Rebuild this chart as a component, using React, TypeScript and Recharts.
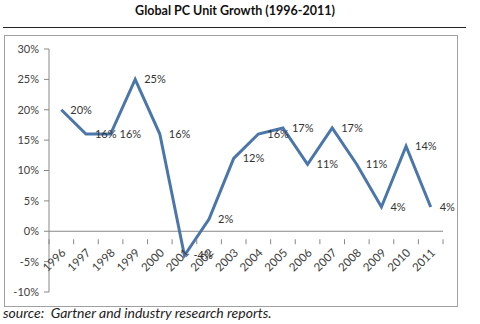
import { LineChart, Line, XAxis, YAxis, LabelList, ReferenceLine } from "recharts";

const years = ["1996", "1997", "1998", "1999", "2000", "2001", "2002", "2003", "2004", "2005", "2006", "2007", "2008", "2009", "2010", "2011"];
const growth = [20, 16, 16, 25, 16, -4, 2, 12, 16, 17, 11, 17, 11, 4, 14, 4];
const yTicks = [-10, -5, 0, 5, 10, 15, 20, 25, 30];

const data = years.map((year, i) => ({ year, growth: growth[i] }));

const W = 480;
const H = 324;
const margin = { top: 49, right: 37, bottom: 31, left: 9 };
const yAxisW = 40;
const yMin = -10;
const yMax = 30;
const plotW = W - margin.left - margin.right - yAxisW;
const plotH = H - margin.top - margin.bottom - 1;
const band = plotW / years.length;
// distance from the bottom of the plot up to the 0% line
const zeroLift = (plotH * (0 - yMin)) / (yMax - yMin);

const font = "Lato, 'Open Sans', sans-serif";

function YearTick(props: any) {
  const { x, y, payload, index } = props;
  const y0 = y - zeroLift;
  return (
    <g>
      <line x1={x - band / 2} x2={x - band / 2} y1={y0} y2={y0 + 5} stroke="#888" />
      {index === years.length - 1 && (
        <line x1={x + band / 2} x2={x + band / 2} y1={y0} y2={y0 + 5} stroke="#888" />
      )}
      <text
        transform={`translate(${x + 2},${y0 + 11}) rotate(-45)`}
        textAnchor="end"
        dominantBaseline="central"
        fontSize={11.5}
        fill="#404040"
        fontFamily={font}
      >
        {payload.value}
      </text>
    </g>
  );
}

export default function App() {
  return (
    <div style={{ position: "absolute", left: 0, top: 0, width: W, height: H, background: "#fff", fontFamily: font }}>
      <div style={{ position: "absolute", left: 0, top: 3, width: 470, textAlign: "center", fontSize: 12.5, fontWeight: 700, color: "#111" }}>
        Global PC Unit Growth (1996-2011)
      </div>
      <div style={{ position: "absolute", left: 3, top: 27, width: 463, height: 1, background: "#222" }} />
      <div style={{ position: "absolute", left: 4, top: 35, width: 452, height: 270, border: "1px solid #a0a0a0" }} />
      <div style={{ position: "absolute", left: 3, top: 304, fontSize: 14, lineHeight: "17px", fontStyle: "italic", color: "#222", whiteSpace: "pre" }}>
        {"source:  Gartner and industry research reports."}
      </div>
      <div style={{ position: "absolute", left: 0, top: 0 }}>
        <LineChart width={W} height={H} data={data} margin={margin}>
          <XAxis
            dataKey="year"
            scale="band"
            height={1}
            axisLine={false}
            tickLine={false}
            tick={<YearTick />}
            interval={0}
          />
          <YAxis
            width={yAxisW}
            domain={[yMin, yMax]}
            ticks={yTicks}
            interval={0}
            tickFormatter={(v: number) => `${v}%`}
            axisLine={{ stroke: "#888" }}
            tickLine={{ stroke: "#888" }}
            tickSize={5}
            tickMargin={5}
            tick={{ fontSize: 11, fill: "#404040", fontFamily: font }}
          />
          <ReferenceLine y={0} stroke="#888" />
          <Line
            type="linear"
            dataKey="growth"
            stroke="#4a76aa"
            strokeWidth={3}
            dot={false}
            isAnimationActive={false}
          >
            <LabelList
              dataKey="growth"
              position="right"
              offset={9}
              formatter={(v: any) => `${v}%`}
              style={{ fontSize: 11, fill: "#333", fontFamily: font }}
            />
          </Line>
        </LineChart>
      </div>
    </div>
  );
}
